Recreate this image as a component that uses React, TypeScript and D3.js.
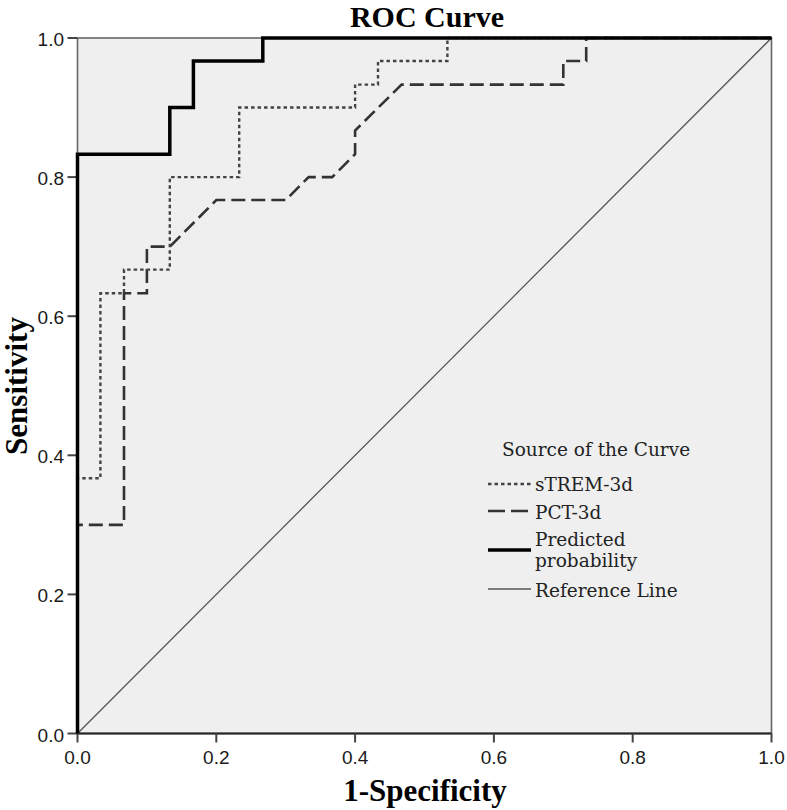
import React from "react";
import * as d3 from "d3";

const xTicks = [0, 0.2, 0.4, 0.6, 0.8, 1.0];
const yTicks = [0, 0.2, 0.4, 0.6, 0.8, 1.0];

const strem3dFpr = [0, 0, 0.033, 0.033, 0.067, 0.067, 0.133, 0.133, 0.233, 0.233, 0.4, 0.4, 0.433, 0.433, 0.533, 0.533, 1];
const strem3dTpr = [0, 0.367, 0.367, 0.633, 0.633, 0.667, 0.667, 0.8, 0.8, 0.9, 0.9, 0.933, 0.933, 0.967, 0.967, 1, 1];

const pct3dFpr = [0, 0, 0.067, 0.067, 0.1, 0.1, 0.133, 0.2, 0.3, 0.333, 0.367, 0.4, 0.4, 0.467, 0.7, 0.7, 0.733, 0.733, 1];
const pct3dTpr = [0, 0.3, 0.3, 0.633, 0.633, 0.7, 0.7, 0.767, 0.767, 0.8, 0.8, 0.833, 0.867, 0.933, 0.933, 0.967, 0.967, 1, 1];

const predFpr = [0, 0, 0.133, 0.133, 0.167, 0.167, 0.267, 0.267, 1];
const predTpr = [0, 0.833, 0.833, 0.9, 0.9, 0.967, 0.967, 1, 1];

const refFpr = [0, 1];
const refTpr = [0, 1];

const legendLabels = ["sTREM-3d", "PCT-3d", "Predicted probability", "Reference Line"];

const W = 787;
const H = 810;
const x0 = 77.5, x1 = 771.5, yTop = 38, yBot = 733.5;

export default function App() {
  const x = d3.scaleLinear().domain([0, 1]).range([x0, x1]);
  const y = d3.scaleLinear().domain([0, 1]).range([yBot, yTop]);
  const line = d3.line<[number, number]>().x((d) => x(d[0])).y((d) => y(d[1]));
  const zip = (a: number[], b: number[]) => a.map((v, i) => [v, b[i]] as [number, number]);

  const serifBold = "'Liberation Serif', 'Times New Roman', serif";
  const sans = "'Liberation Sans', Arial, sans-serif";
  const legendFont = "'DejaVu Serif', serif";

  const lx0 = 488, lx1 = 531, ltx = 535;

  return (
    <svg width={W} height={H} style={{ position: "absolute", left: 0, top: 0, background: "#fff" }}>
      <rect x={x0} y={yTop} width={x1 - x0} height={yBot - yTop} fill="#efefef" stroke="#666" strokeWidth={1.6} />
      {/* title */}
      <text x={427} y={27} textAnchor="middle" fontFamily={serifBold} fontWeight="bold" fontSize={30} fill="#000">ROC Curve</text>
      {/* x axis */}
      <line x1={x0} x2={x1} y1={yBot} y2={yBot} stroke="#222" strokeWidth={2} />
      {xTicks.map((t) => (
        <g key={"x" + t}>
          <line x1={x(t)} x2={x(t)} y1={yBot} y2={yBot + 9} stroke="#444" strokeWidth={2} />
          <text x={x(t)} y={764} textAnchor="middle" fontFamily={sans} fontSize={19} fill="#1a1a1a">{t.toFixed(1)}</text>
        </g>
      ))}
      {yTicks.map((t) => (
        <g key={"y" + t}>
          <line x1={x0 - 10} x2={x0} y1={y(t)} y2={y(t)} stroke="#444" strokeWidth={2} />
          <text x={64} y={y(t) + 8} textAnchor="end" fontFamily={sans} fontSize={19} fill="#1a1a1a">{t.toFixed(1)}</text>
        </g>
      ))}
      <text x={425} y={801} textAnchor="middle" fontFamily={serifBold} fontWeight="bold" fontSize={31} fill="#000">1-Specificity</text>
      <text transform="translate(27,386) rotate(-90)" textAnchor="middle" fontFamily={serifBold} fontWeight="bold" fontSize={31} fill="#000">Sensitivity</text>

      {/* curves */}
      <path d={line(zip(refFpr, refTpr)) || ""} fill="none" stroke="#555" strokeWidth={1.3} />
      <path d={line(zip(pct3dFpr, pct3dTpr)) || ""} fill="none" stroke="#333" strokeWidth={2.6} strokeDasharray="14 6" />
      <path d={line(zip(strem3dFpr, strem3dTpr)) || ""} fill="none" stroke="#444" strokeWidth={2.4} strokeDasharray="3.5 3" />
      <path d={line(zip(predFpr, predTpr)) || ""} fill="none" stroke="#000" strokeWidth={3.5} />

      {/* legend */}
      <text x={502} y={456} fontFamily={legendFont} fontSize={18.5} fill="#222">Source of the Curve</text>
      <line x1={lx0} x2={lx1} y1={484} y2={484} stroke="#444" strokeWidth={2.4} strokeDasharray="3.5 3" />
      <text x={ltx} y={491} fontFamily={legendFont} fontSize={18.5} fill="#222">{legendLabels[0]}</text>
      <line x1={lx0} x2={lx1} y1={511} y2={511} stroke="#333" strokeWidth={2.6} strokeDasharray="17 6" />
      <text x={ltx} y={519} fontFamily={legendFont} fontSize={18.5} fill="#222">{legendLabels[1]}</text>
      <line x1={lx0} x2={lx1} y1={550} y2={550} stroke="#000" strokeWidth={3.5} />
      <text x={ltx} y={546} fontFamily={legendFont} fontSize={18.5} fill="#222">{legendLabels[2].split(" ")[0]}</text>
      <text x={ltx} y={567} fontFamily={legendFont} fontSize={18.5} fill="#222">{legendLabels[2].split(" ")[1]}</text>
      <line x1={lx0} x2={lx1} y1={589} y2={589} stroke="#555" strokeWidth={1.3} />
      <text x={ltx} y={597} fontFamily={legendFont} fontSize={18.5} fill="#222">{legendLabels[3]}</text>
    </svg>
  );
}
